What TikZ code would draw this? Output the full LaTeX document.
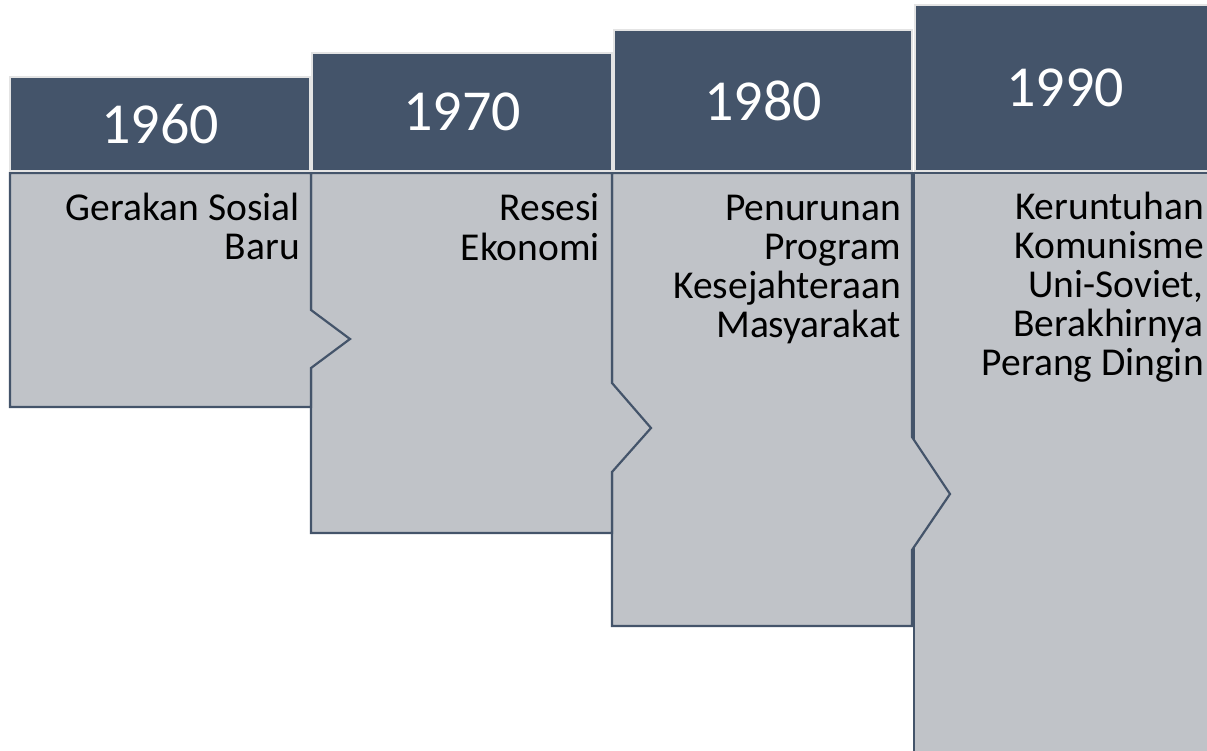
\documentclass[tikz,border=0pt]{standalone}
\usepackage{fontspec}
\setmainfont{Carlito}
\definecolor{hdr}{HTML}{44546A}
\definecolor{bodyfill}{HTML}{C0C3C8}
\definecolor{hdredge}{HTML}{E4E4E4}
\begin{document}
\begin{tikzpicture}[x=1pt,y=-1pt,
  hdrbox/.style={draw=hdredge, line width=1.5pt, fill=hdr, text=white,
    font=\fontsize{58}{60}\selectfont, inner sep=0pt},
  bodyshape/.style={draw=hdr, line width=2.2pt, fill=bodyfill, line join=miter},
  bodytext/.style={anchor=north east, align=right, inner sep=0pt,
    font=\fontsize{39.5}{39}\selectfont, text=black}]
\useasboundingbox[fill=white] (0,0) rectangle (1207,751);
% bodies, drawn from last to first so each arrow lies over the next body
\path[bodyshape] (914,173) -- (1220,173) -- (1220,770) -- (914,770) -- cycle;
\path[bodyshape] (612,173) -- (912,173) -- (912,437) -- (950,494) -- (912,550) -- (912,626) -- (612,626) -- cycle;
\path[bodyshape] (311,173) -- (612,173) -- (612,383) -- (651,428) -- (612,472) -- (612,533) -- (311,533) -- cycle;
\path[bodyshape] (10,173) -- (311,173) -- (311,310) -- (350,339) -- (311,368) -- (311,407) -- (10,407) -- cycle;
% headers
\node[hdrbox, minimum width=300pt, minimum height=94pt]  (h1) at (160,124)  {1960};
\node[hdrbox, minimum width=300pt, minimum height=118pt] (h2) at (462,112)  {1970};
\node[hdrbox, minimum width=298pt, minimum height=141pt] (h3) at (763,100.5) {1980};
\node[hdrbox, minimum width=300pt, minimum height=166pt] (h4) at (1065,88)  {1990};
% body texts
\node[bodytext] (t1) at (300,193)  {\strut Gerakan Sosial\\Baru};
\node[bodytext] (t2) at (600,193)  {\strut Resesi\\Ekonomi};
\node[bodytext] (t3) at (901,193)  {\strut Penurunan\\Program\\Kesejahteraan\\Masyarakat};
\node[bodytext] (t4) at (1204,192) {\strut Keruntuhan\\Komunisme\\Uni-Soviet,\\Berakhirnya\\Perang Dingin};
\end{tikzpicture}
\end{document}
